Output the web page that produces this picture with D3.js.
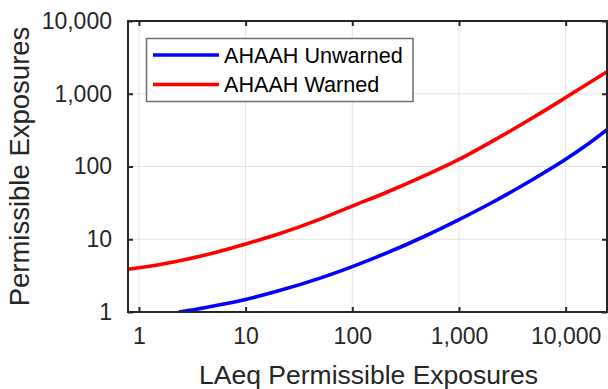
<!DOCTYPE html>
<html>
<head>
<meta charset="utf-8">
<script src="https://cdn.jsdelivr.net/npm/d3@7"></script>
<style>
  html, body { margin: 0; padding: 0; background: #fff; }
  svg { display: block; font-family: "Liberation Sans", Arial, Helvetica, sans-serif; }
</style>
</head>
<body>
<svg id="chart" width="608" height="389"></svg>
<script>
// Permissible exposures: AHAAH model vs. LAeq
const xTickValues = [1, 10, 100, 1000, 10000];
const yTickValues = [1, 10, 100, 1000, 10000];

const unwarnedX = [2.37, 3, 5, 10, 20, 50, 100, 200, 500, 1000, 2000, 5000, 10000, 15000, 24400];
const unwarnedY = [1.0, 1.054, 1.21, 1.49, 1.94, 2.92, 4.2, 6.28, 11.35, 18.6, 31.5, 67.3, 125.6, 188, 321];

const warnedX = [0.79, 1, 2, 5, 10, 20, 50, 100, 200, 500, 1000, 2000, 5000, 10000, 24400];
const warnedY = [3.87, 4.06, 4.8, 6.49, 8.61, 11.7, 18.9, 28.6, 42.9, 77.1, 125, 218, 475, 887, 2010];

const seriesNames = ["AHAAH Unwarned", "AHAAH Warned"];
const seriesColors = ["#0000ff", "#ff0000"];

const xDomain = [0.79, 24400];
const yDomain = [1, 10000];

const svg = d3.select("#chart");
const plot = { left: 128, right: 607, top: 21, bottom: 312 };

const x = d3.scaleLog().domain(xDomain).range([plot.left, plot.right]);
const y = d3.scaleLog().domain(yDomain).range([plot.bottom, plot.top]);
const fmt = d3.format(",");

const axisColor = "#262626";
const gridColor = "#e3e3e3";

// grid
const grid = svg.append("g");
grid.selectAll("line.gx").data(xTickValues).join("line")
  .attr("x1", d => x(d)).attr("x2", d => x(d))
  .attr("y1", plot.top).attr("y2", plot.bottom)
  .attr("stroke", gridColor).attr("stroke-width", 1);
grid.selectAll("line.gy").data(yTickValues).join("line")
  .attr("y1", d => y(d)).attr("y2", d => y(d))
  .attr("x1", plot.left).attr("x2", plot.right)
  .attr("stroke", gridColor).attr("stroke-width", 1);

// curves
const series = [
  { name: seriesNames[0], color: seriesColors[0], pts: unwarnedX.map((v, i) => [v, unwarnedY[i]]) },
  { name: seriesNames[1], color: seriesColors[1], pts: warnedX.map((v, i) => [v, warnedY[i]]) }
];
const line = d3.line()
  .x(d => x(d[0])).y(d => y(d[1]))
  .curve(d3.curveMonotoneX);

svg.append("defs").append("clipPath").attr("id", "clip")
  .append("rect")
  .attr("x", plot.left).attr("y", plot.top)
  .attr("width", plot.right - plot.left).attr("height", plot.bottom - plot.top);

svg.append("g").attr("clip-path", "url(#clip)")
  .selectAll("path").data(series).join("path")
  .attr("d", d => line(d.pts))
  .attr("fill", "none")
  .attr("stroke", d => d.color)
  .attr("stroke-width", 3.6);

// axes (ticks pointing inward, mirrored on top and right)
const tickLen = 5;
const xAxisB = d3.axisBottom(x).tickValues(xTickValues).tickFormat(fmt).tickSizeInner(-tickLen).tickSizeOuter(0).tickPadding(16);
const xAxisT = d3.axisTop(x).tickValues(xTickValues).tickFormat("").tickSizeInner(-tickLen).tickSizeOuter(0);
const yAxisL = d3.axisLeft(y).tickValues(yTickValues).tickFormat(fmt).tickSizeInner(-tickLen).tickSizeOuter(0).tickPadding(16);
const yAxisR = d3.axisRight(y).tickValues(yTickValues).tickFormat("").tickSizeInner(-tickLen).tickSizeOuter(0);

function styleAxis(g) {
  g.select(".domain").remove();
  g.selectAll(".tick line").attr("stroke", axisColor).attr("stroke-width", 2);
  g.selectAll(".tick text").attr("fill", axisColor).style("font-size", "23px")
    .style("font-family", "'Liberation Sans', Arial, sans-serif");
}

svg.append("g").attr("transform", `translate(0,${plot.bottom})`).call(xAxisB).call(styleAxis);
svg.append("g").attr("transform", `translate(0,${plot.top})`).call(xAxisT).call(styleAxis);
svg.append("g").attr("transform", `translate(${plot.left},0)`).call(yAxisL).call(styleAxis);
svg.append("g").attr("transform", `translate(${plot.right},0)`).call(yAxisR).call(styleAxis);

// frame
svg.append("rect")
  .attr("x", plot.left).attr("y", plot.top)
  .attr("width", plot.right - plot.left).attr("height", plot.bottom - plot.top)
  .attr("fill", "none").attr("stroke", axisColor).attr("stroke-width", 2);

// axis titles
svg.append("text")
  .attr("x", (plot.left + plot.right) / 2 + 1).attr("y", 384)
  .attr("text-anchor", "middle")
  .attr("fill", axisColor)
  .style("font-size", "26.5px")
  .text("LAeq Permissible Exposures");

svg.append("text")
  .attr("transform", `translate(29,${(plot.top + plot.bottom) / 2}) rotate(-90)`)
  .attr("text-anchor", "middle")
  .attr("fill", axisColor)
  .style("font-size", "27.5px")
  .text("Permissible Exposures");

// legend
const legend = svg.append("g");
legend.append("rect")
  .attr("x", 146.5).attr("y", 38.5).attr("width", 266.5).attr("height", 63)
  .attr("fill", "#fff").attr("stroke", "#6e6e6e").attr("stroke-width", 1.5);
const rows = legend.selectAll("g.row").data(series).join("g")
  .attr("transform", (d, i) => `translate(0,${55 + i * 29.5})`);
rows.append("line")
  .attr("x1", 153).attr("x2", 219).attr("y1", 0).attr("y2", 0)
  .attr("stroke", d => d.color).attr("stroke-width", 3.6);
rows.append("text")
  .attr("x", 224).attr("y", 0).attr("dy", "0.36em")
  .attr("fill", "#000")
  .style("font-size", "21.6px")
  .text(d => d.name);
</script>
</body>
</html>
